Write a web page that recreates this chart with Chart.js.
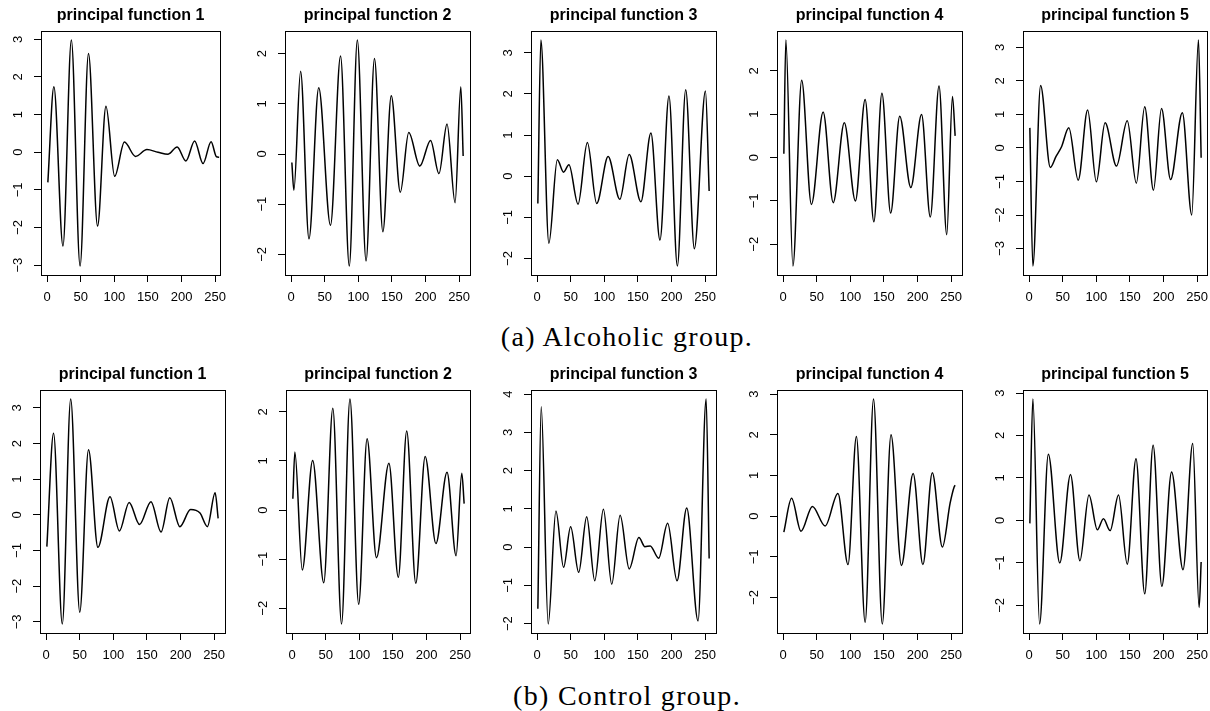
<!DOCTYPE html>
<html>
<head>
<meta charset="utf-8">
<script src="https://cdn.jsdelivr.net/npm/chart.js@4.4.1/dist/chart.umd.min.js"></script>
<style>
  body { margin: 0; background: #fff; width: 1210px; height: 711px; position: relative; overflow: hidden; }
  canvas { position: absolute; }
  .caption { position: absolute; width: 600px; height: 28px; line-height: 28px; text-align: center;
             font-family: "Liberation Serif", serif; font-size: 28px; letter-spacing: 1.3px; color: #000; }
</style>
</head>
<body>
<div class="caption" style="left:327px; top:323px;">(a) Alcoholic group.</div>
<div class="caption" style="left:327px; top:682px;">(b) Control group.</div>
<script>
// x tick labels shared by every panel
const xTicks = [0, 50, 100, 150, 200, 250];

// alcoholic group, [time, value] at the turning points of each principal function
const alcoholic1 = [[1, -0.8], [10, 1.74], [23.5, -2.49], [36, 2.98], [49, -3.02], [61.5, 2.62], [75, -1.96],
    [87.5, 1.22], [100.5, -0.64], [115, 0.27], [131.5, -0.11], [148.5, 0.07], [165, 0.0], [180, -0.05],
    [193.5, 0.14], [206.5, -0.23], [219.5, 0.3], [232, -0.3], [244, 0.28], [252, -0.12], [256, -0.13]];
const alcoholic2 = [[1, -0.17], [4, -0.72], [14, 1.65], [26.5, -1.69], [41, 1.32], [58.5, -1.42], [73.5, 1.95],
    [86.5, -2.23], [98.5, 2.27], [111.5, -2.13], [124, 1.9], [136.5, -1.55], [149, 1.16], [162.5, -0.76],
    [175, 0.43], [191.5, -0.24], [207.5, 0.27], [220, -0.39], [232, 0.6], [244, -0.97], [252.5, 1.34], [256, -0.04]];
const alcoholic3 = [[1, -0.66], [5.5, 3.31], [17.4, -1.63], [30, 0.4], [39.3, 0.1], [47.3, 0.28], [60.8, -0.68],
    [74.7, 0.82], [88.6, -0.66], [105.6, 0.48], [123, -0.56], [137, 0.53], [154.4, -0.62], [169.3, 1.05],
    [182.8, -1.55], [196.2, 1.95], [208.7, -2.18], [221.1, 2.1], [234, -1.76], [250.5, 2.07], [256, -0.36]];
const alcoholic4 = [[1, 0.09], [4, 2.71], [14.5, -2.5], [27.5, 1.78], [42, -1.08], [59.5, 1.05], [74.5, -1.04],
    [91, 0.8], [107.5, -1.0], [122, 1.34], [135, -1.48], [147, 1.48], [160, -1.28], [173.5, 0.95], [190, -0.69],
    [206, 0.99], [219, -1.37], [232, 1.65], [243.5, -1.78], [252, 1.41], [256, 0.5]];
const alcoholic5 = [[1, 0.6], [5.5, -3.52], [17, 1.86], [31.5, -0.58], [40, -0.25], [48, 0.03], [59, 0.6],
    [73, -0.96], [87, 1.13], [100, -1.01], [113, 0.75], [130, -0.54], [146, 0.81], [159.5, -1.05], [172, 1.23],
    [185, -1.26], [197, 1.18], [210.5, -0.94], [228, 1.05], [242, -2.0], [252, 3.22], [256, -0.29]];

// control group
const control1 = [[1, -0.89], [11, 2.29], [24, -3.06], [36.5, 3.25], [50, -2.73], [63, 1.83], [77, -0.91],
    [95, 0.51], [109, -0.45], [123.5, 0.35], [139, -0.27], [156, 0.37], [171, -0.48], [184, 0.48], [199, -0.33],
    [215, 0.15], [229, 0.05], [240, -0.33], [251.5, 0.62], [256, -0.1]];
const control2 = [[1, 0.23], [4, 1.18], [15, -1.22], [30.5, 1.01], [47, -1.48], [60.5, 2.07], [73.5, -2.32],
    [86, 2.26], [99, -1.92], [111.5, 1.45], [125.5, -0.97], [144, 0.95], [158, -1.37], [170.5, 1.61],
    [184, -1.49], [198, 1.09], [214, -0.68], [230.5, 0.77], [244, -0.93], [252.5, 0.75], [256, 0.13]];
const control3 = [[1, -1.61], [6, 3.67], [16.4, -2.01], [27.9, 0.94], [39.3, -0.53], [49.8, 0.53], [61.8, -0.66],
    [73.7, 0.79], [85.7, -0.88], [98.6, 0.99], [111, -0.97], [123.5, 0.83], [137, -0.57], [151.4, 0.25],
    [160.4, 0.01], [168.3, 0.03], [180.8, -0.29], [194.2, 0.62], [208.2, -0.88], [222.6, 1.02], [239.5, -1.93],
    [251.5, 3.87], [256, -0.3]];
const control4 = [[1, -0.39], [12.5, 0.44], [26.5, -0.37], [43.5, 0.24], [62.5, -0.24], [81.5, 0.56], [96.5, -1.19],
    [109, 1.96], [122, -2.61], [134.5, 2.88], [147.5, -2.65], [160.5, 2.0], [176, -1.21], [193.5, 1.05],
    [208, -1.19], [222, 1.07], [237, -0.76], [248.5, 0.32], [254.5, 0.72], [256, 0.76]];
const control5 = [[1, -0.07], [5.5, 2.86], [15.5, -2.44], [28.5, 1.56], [45.5, -1.0], [61.5, 1.08], [75.5, -0.95],
    [89, 0.6], [101.5, -0.22], [110.5, 0.04], [120.5, -0.24], [133, 0.6], [146, -1.03], [159, 1.45], [172, -1.73],
    [184.5, 1.77], [197.5, -1.55], [212, 1.14], [229, -1.16], [243.5, 1.81], [253, -2.05], [256, -0.98]];

// y tick labels per panel
const alcoholicYTicks = [[-3, -2, -1, 0, 1, 2, 3], [-2, -1, 0, 1, 2], [-2, -1, 0, 1, 2, 3], [-2, -1, 0, 1, 2], [-3, -2, -1, 0, 1, 2, 3]];
const controlYTicks = [[-3, -2, -1, 0, 1, 2, 3], [-2, -1, 0, 1, 2], [-2, -1, 0, 1, 2, 3, 4], [-2, -1, 0, 1, 2, 3], [-2, -1, 0, 1, 2, 3]];

const titles = ['principal function 1', 'principal function 2', 'principal function 3', 'principal function 4', 'principal function 5'];

Chart.defaults.font.family = '"Liberation Sans", Arial, sans-serif';
Chart.defaults.color = '#000';

// box round the plot region, like R's bty="o"
const boxPlugin = {
    id: 'box',
    afterDraw(chart) {
        const a = chart.chartArea;
        const ctx = chart.ctx;
        const l = Math.round(a.left), t = Math.round(a.top);
        ctx.save();
        ctx.strokeStyle = '#000';
        ctx.lineWidth = 1;
        ctx.strokeRect(l + 0.5, t + 0.5, Math.round(a.right) - l, Math.round(a.bottom) - t);
        ctx.restore();
    }
};

function drawPanel(series, yTicks, title, left, top, boxW, boxH, xMax) {
    const canvas = document.createElement('canvas');
    canvas.width = boxW + 84;
    canvas.height = 31 + boxH + 36;
    canvas.style.left = (left - 42) + 'px';
    canvas.style.top = top + 'px';
    document.body.appendChild(canvas);

    const ys = series.map(d => d[1]);
    const lo = Math.min(...ys);
    const hi = Math.max(...ys);
    const pad = (hi - lo) * 0.04; // R's default axis extension

    const tickGrid = { display: true, drawOnChartArea: false, drawTicks: true, tickLength: 7, color: '#000', lineWidth: 1 };

    new Chart(canvas, {
        type: 'line',
        data: {
            datasets: [{
                data: series.map(d => ({ x: d[0], y: d[1] })),
                borderColor: '#000',
                borderWidth: 1.5,
                pointRadius: 0,
                fill: false,
                cubicInterpolationMode: 'monotone'
            }]
        },
        options: {
            responsive: false,
            animation: false,
            layout: { padding: { left: 0, right: 42, top: 0, bottom: 0 } },
            plugins: {
                legend: { display: false },
                tooltip: { enabled: false },
                title: {
                    display: true,
                    fullSize: false, // centre over the plot box, not the canvas
                    text: title,
                    color: '#000',
                    font: { size: 16, weight: 'bold', lineHeight: 1.25 },
                    padding: { top: 6, bottom: 5 }
                }
            },
            scales: {
                x: {
                    type: 'linear',
                    min: -9.2,
                    max: xMax,
                    afterBuildTicks: s => { s.ticks = xTicks.map(v => ({ value: v })); },
                    afterFit: s => { s.height = 36; },
                    grid: tickGrid,
                    border: { display: false },
                    ticks: { font: { size: 13 }, padding: 8, maxRotation: 0, autoSkip: false }
                },
                y: {
                    type: 'linear',
                    min: lo - pad,
                    max: hi + pad,
                    afterBuildTicks: s => { s.ticks = yTicks.map(v => ({ value: v })); },
                    afterFit: s => { s.width = 42; },
                    grid: tickGrid,
                    border: { display: false },
                    ticks: {
                        font: { size: 13 },
                        padding: 8,
                        minRotation: 90,
                        maxRotation: 90,
                        crossAlign: 'center',
                        autoSkip: false,
                        callback: v => String(v).replace('-', '\u2212')
                    }
                }
            }
        },
        plugins: [boxPlugin]
    });
}

const alcoholic = [alcoholic1, alcoholic2, alcoholic3, alcoholic4, alcoholic5];
const control = [control1, control2, control3, control4, control5];
const topLefts = [41, 285, 531, 777, 1023];
const bottomLefts = [40, 286, 531, 777, 1023];
const widthsTop = [179, 185, 185, 185, 184];
const widthsBottom = [185, 184, 185, 185, 184];

for (let i = 0; i < 5; i++) {
    const xMaxTop = -9.2 + widthsTop[i] * 275.4 / 185;
    const xMaxBottom = -9.2 + widthsBottom[i] * 275.4 / 185;
    drawPanel(alcoholic[i], alcoholicYTicks[i], titles[i], topLefts[i], 0, widthsTop[i], 244, xMaxTop);
    drawPanel(control[i], controlYTicks[i], titles[i], bottomLefts[i], 359, widthsBottom[i], 243, xMaxBottom);
}
</script>
</body>
</html>
